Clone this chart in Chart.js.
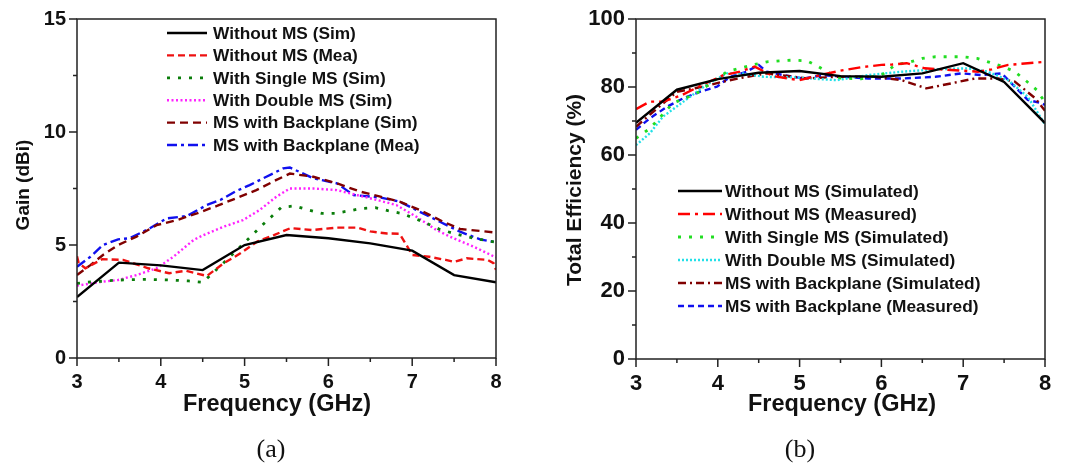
<!DOCTYPE html>
<html>
<head>
<meta charset="utf-8">
<script src="https://cdn.jsdelivr.net/npm/chart.js@4.4.0/dist/chart.umd.min.js"></script>
<style>
  html, body { margin: 0; padding: 0; background: #fff; }
  body { width: 1074px; height: 470px; position: relative; overflow: hidden; }
  .panel { position: absolute; top: 0; width: 537px; height: 470px; }
  #pa { left: 0; }
  #pb { left: 537px; }
  .cap { position: absolute; top: 434px; font: 26px "Liberation Serif", "Times New Roman", serif; color: #111; transform: translateX(-50%); }
</style>
</head>
<body>
<div class="panel" id="pa"><canvas id="gainChart"></canvas></div>
<div class="panel" id="pb"><canvas id="effChart"></canvas></div>
<div class="cap" style="left:271px">(a)</div>
<div class="cap" style="left:800px">(b)</div>
<script>
// ---- (a) Gain (dBi) vs frequency (GHz) ----
var GAIN_NOMS_SIM_F = [3, 3.5, 4, 4.5, 5, 5.5, 6, 6.5, 7, 7.5, 8];
var GAIN_NOMS_SIM = [2.7, 4.22, 4.1, 3.89, 5.0, 5.44, 5.3, 5.07, 4.75, 3.67, 3.35];

var GAIN_NOMS_MEA_F = [3.0, 3.02, 3.1, 3.3, 3.55, 3.85, 4.1, 4.3, 4.55, 4.75, 4.95, 5.15, 5.35, 5.55, 5.8, 6.1, 6.35, 6.5, 6.7, 6.85, 6.92, 7.0, 7.2, 7.4, 7.5, 7.65, 7.9, 7.97, 8.0];
var GAIN_NOMS_MEA = [4.5, 4.2, 3.97, 4.37, 4.34, 3.97, 3.75, 3.86, 3.63, 4.19, 4.63, 5.15, 5.44, 5.75, 5.66, 5.77, 5.77, 5.6, 5.51, 5.5, 5.07, 4.56, 4.48, 4.34, 4.25, 4.41, 4.34, 4.2, 3.9];

var GAIN_SINGLE_F = [3.0, 3.12, 3.5, 3.83, 4.11, 4.33, 4.5, 4.73, 4.97, 5.08, 5.2, 5.32, 5.44, 5.6, 5.76, 5.92, 6.08, 6.23, 6.4, 6.56, 6.71, 6.87, 7.03, 7.17, 7.33, 7.49, 7.65, 7.81, 8.0];
var GAIN_SINGLE = [3.3, 3.35, 3.45, 3.48, 3.45, 3.41, 3.35, 4.14, 5.0, 5.4, 5.84, 6.25, 6.67, 6.73, 6.55, 6.4, 6.4, 6.5, 6.62, 6.65, 6.52, 6.4, 6.18, 5.96, 5.69, 5.52, 5.37, 5.25, 5.12];

var GAIN_DOUBLE_F = [3.0, 3.31, 3.49, 3.71, 3.95, 4.15, 4.39, 4.51, 4.75, 4.98, 5.18, 5.38, 5.54, 5.82, 6.1, 6.34, 6.58, 6.81, 7.05, 7.29, 7.49, 7.73, 8.0];
var GAIN_DOUBLE = [3.2, 3.38, 3.45, 3.67, 3.97, 4.48, 5.22, 5.44, 5.81, 6.1, 6.55, 7.14, 7.5, 7.5, 7.43, 7.21, 6.99, 6.77, 6.25, 5.66, 5.3, 4.93, 4.45];

var GAIN_BP_SIM_F = [3.0, 3.16, 3.31, 3.49, 3.71, 3.95, 4.19, 4.43, 4.67, 4.9, 5.14, 5.38, 5.54, 5.82, 6.1, 6.38, 6.62, 6.85, 7.09, 7.37, 7.57, 7.81, 8.0];
var GAIN_BP_SIM = [3.67, 4.11, 4.56, 5.0, 5.37, 5.88, 6.1, 6.4, 6.73, 7.07, 7.43, 7.88, 8.16, 8.02, 7.73, 7.36, 7.14, 6.92, 6.55, 6.03, 5.71, 5.62, 5.55];

var GAIN_BP_MEA_F = [3.0, 3.16, 3.31, 3.49, 3.63, 3.87, 4.07, 4.31, 4.55, 4.71, 4.9, 5.06, 5.26, 5.46, 5.54, 5.82, 6.1, 6.3, 6.62, 6.85, 7.09, 7.33, 7.57, 7.81, 8.0];
var GAIN_BP_MEA = [4.04, 4.48, 5.0, 5.25, 5.3, 5.74, 6.18, 6.28, 6.77, 6.99, 7.39, 7.65, 8.02, 8.39, 8.43, 7.95, 7.73, 7.21, 7.1, 6.92, 6.47, 6.03, 5.59, 5.25, 5.12];

var GAIN_LABELS = ['Without MS (Sim)', 'Without MS (Mea)', 'With Single MS (Sim)', 'With Double MS (Sim)', 'MS with Backplane (Sim)', 'MS with Backplane (Mea)'];

// ---- (b) Total efficiency (%) vs frequency (GHz) ----
var EFF_NOMS_SIM_F = [3, 3.5, 4, 4.5, 5, 5.5, 6, 6.5, 7, 7.5, 8];
var EFF_NOMS_SIM = [69.5, 79.2, 82.3, 84.2, 84.7, 83.2, 83.0, 84.0, 87.0, 81.5, 69.4];

var EFF_NOMS_MEA_F = [3.0, 3.17, 3.33, 3.55, 3.8, 4.07, 4.27, 4.45, 4.68, 5.0, 5.25, 5.5, 5.75, 6.0, 6.13, 6.31, 6.53, 6.72, 7.0, 7.18, 7.35, 7.55, 7.75, 8.0];
var EFF_NOMS_MEA = [73.5, 75.7, 75.7, 77.5, 80.5, 83.5, 84.5, 86.0, 83.2, 82.0, 83.5, 84.8, 85.8, 86.5, 86.6, 87.0, 85.5, 85.2, 84.8, 84.5, 85.2, 86.5, 86.9, 87.4];

var EFF_SINGLE_F = [3.0, 3.17, 3.45, 3.74, 4.11, 4.27, 4.43, 4.6, 4.76, 4.92, 5.09, 5.23, 5.37, 5.5, 5.75, 6.0, 6.17, 6.33, 6.5, 6.66, 6.84, 7.0, 7.17, 7.33, 7.49, 7.63, 7.76, 7.9, 8.0];
var EFF_SINGLE = [64.9, 67.8, 75.2, 78.1, 84.5, 85.5, 86.5, 87.4, 87.7, 87.9, 87.7, 86.0, 84.0, 82.6, 82.4, 83.5, 86.5, 87.2, 88.4, 88.9, 88.9, 88.9, 88.4, 87.2, 86.0, 84.5, 82.0, 79.1, 75.5];

var EFF_DOUBLE_F = [3.0, 3.17, 3.33, 3.58, 3.86, 4.11, 4.31, 4.56, 4.96, 5.45, 5.84, 6.25, 6.66, 7.06, 7.3, 7.55, 7.79, 8.0];
var EFF_DOUBLE = [62.9, 66.4, 71.3, 75.7, 80.6, 84.0, 84.0, 83.0, 82.8, 82.0, 83.5, 84.5, 85.2, 85.5, 84.5, 82.0, 77.1, 69.0];

var EFF_BP_SIM_F = [3.0, 3.21, 3.5, 3.82, 4.07, 4.31, 4.6, 5.09, 5.45, 5.92, 6.25, 6.55, 6.86, 7.14, 7.43, 7.63, 7.88, 8.0];
var EFF_BP_SIM = [68.3, 72.7, 78.6, 80.1, 81.6, 82.8, 84.0, 82.5, 83.0, 83.0, 82.0, 79.6, 81.1, 82.5, 82.5, 81.6, 76.7, 73.0];

var EFF_BP_MEA_F = [3.0, 3.17, 3.38, 3.58, 3.78, 3.99, 4.15, 4.35, 4.5, 4.6, 4.8, 5.05, 5.29, 5.45, 5.84, 6.25, 6.66, 6.98, 7.23, 7.47, 7.63, 7.79, 7.96, 8.0];
var EFF_BP_MEA = [67.4, 70.8, 74.2, 76.7, 78.6, 80.1, 83.0, 84.5, 86.5, 84.5, 83.5, 82.5, 83.5, 83.2, 82.5, 82.5, 83.0, 84.0, 83.5, 84.0, 80.1, 76.2, 75.2, 74.7];

var EFF_LABELS = ['Without MS (Simulated)', 'Without MS (Measured)', 'With Single MS (Simulated)', 'With Double MS (Simulated)', 'MS with Backplane (Simulated)', 'MS with Backplane (Measured)'];

var SANS = '"Liberation Sans", Arial, sans-serif';
var INK = '#111';

function series(label, xs, ys, color, dash, width) {
  return {
    label: label,
    data: xs.map(function (x, i) { return { x: x, y: ys[i] }; }),
    borderColor: color, borderDash: dash, borderWidth: width || 2.4,
    borderCapStyle: 'butt', pointRadius: 0, fill: false, tension: 0
  };
}

/* frame, minor/major ticks, axis titles and in-plot legend */
var framePlugin = {
  id: 'frame',
  afterDraw: function (chart, args, o) {
    var ctx = chart.ctx, a = chart.chartArea;
    var xs = chart.scales.x, ys = chart.scales.y;
    ctx.save();
    ctx.strokeStyle = '#222';
    ctx.lineWidth = 1.5;
    ctx.strokeRect(a.left, a.top, a.right - a.left, a.bottom - a.top);
    ctx.beginPath();
    var v, n, p, len;
    for (n = 0; ; n++) {
      v = xs.min + n * o.xMinor;
      if (v > xs.max + 1e-9) break;
      p = xs.getPixelForValue(v);
      len = (n % 2 === 0) ? 8 : 4;
      ctx.moveTo(p, a.bottom); ctx.lineTo(p, a.bottom + len);
    }
    for (n = 0; ; n++) {
      v = ys.min + n * o.yMinor;
      if (v > ys.max + 1e-9) break;
      p = ys.getPixelForValue(v);
      len = (n % 2 === 0) ? 8 : 4;
      ctx.moveTo(a.left, p); ctx.lineTo(a.left - len, p);
    }
    ctx.stroke();

    ctx.fillStyle = INK;
    ctx.textAlign = 'center';
    ctx.textBaseline = 'middle';
    ctx.font = 'bold ' + o.xTitle.size + 'px ' + SANS;
    ctx.fillText(o.xTitle.text, o.xTitle.x, o.xTitle.y);
    ctx.save();
    ctx.translate(o.yTitle.x, o.yTitle.y);
    ctx.rotate(-Math.PI / 2);
    ctx.font = 'bold ' + o.yTitle.size + 'px ' + SANS;
    ctx.fillText(o.yTitle.text, 0, 0);
    ctx.restore();

    var L = o.legend;
    ctx.font = 'bold ' + L.size + 'px ' + SANS;
    ctx.textAlign = 'left';
    chart.data.datasets.forEach(function (d, i) {
      var y = L.y0 + i * L.dy;
      ctx.save();
      ctx.strokeStyle = d.borderColor;
      ctx.lineWidth = d.borderWidth;
      ctx.setLineDash(d.borderDash || []);
      ctx.beginPath();
      ctx.moveTo(L.x0, y); ctx.lineTo(L.x1, y);
      ctx.stroke();
      ctx.restore();
      ctx.fillStyle = INK;
      ctx.fillText(d.label, L.tx, y + 1);
    });
    ctx.restore();
  }
};
Chart.register(framePlugin);

function axes(yMax, yStep, yWidth, tickSize) {
  return {
    x: {
      type: 'linear', min: 3, max: 8,
      ticks: { stepSize: 1, color: INK, padding: 5, font: { family: SANS, size: tickSize, weight: 'bold' } },
      grid: { display: false, drawTicks: true, tickLength: 7 },
      border: { display: false },
      afterFit: function (s) { s.height = 40; }
    },
    y: {
      min: 0, max: yMax,
      ticks: { stepSize: yStep, color: INK, padding: 4, font: { family: SANS, size: tickSize, weight: 'bold' } },
      grid: { display: false, drawTicks: true, tickLength: 7 },
      border: { display: false },
      afterFit: function (s) { s.width = yWidth; }
    }
  };
}

function baseOptions(pad, scales, frame) {
  return {
    responsive: true, maintainAspectRatio: false, animation: false,
    layout: { padding: pad },
    scales: scales,
    plugins: { legend: { display: false }, tooltip: { enabled: false }, frame: frame }
  };
}

new Chart(document.getElementById('gainChart'), {
  type: 'line',
  data: {
    datasets: [
      series(GAIN_LABELS[0], GAIN_NOMS_SIM_F, GAIN_NOMS_SIM, '#000000', []),
      series(GAIN_LABELS[1], GAIN_NOMS_MEA_F, GAIN_NOMS_MEA, '#ee1111', [7, 4]),
      series(GAIN_LABELS[2], GAIN_SINGLE_F, GAIN_SINGLE, '#0a7d0a', [3, 8], 2.8),
      series(GAIN_LABELS[3], GAIN_DOUBLE_F, GAIN_DOUBLE, '#ff22ff', [2, 2.5]),
      series(GAIN_LABELS[4], GAIN_BP_SIM_F, GAIN_BP_SIM, '#800000', [8, 5]),
      series(GAIN_LABELS[5], GAIN_BP_MEA_F, GAIN_BP_MEA, '#1010ee', [10, 4, 3, 4])
    ]
  },
  options: baseOptions({ left: 0, right: 41, top: 19, bottom: 72 }, axes(15, 5, 77, 20), {
    xMinor: 0.5, yMinor: 2.5,
    xTitle: { text: 'Frequency (GHz)', x: 277, y: 405, size: 23.5 },
    yTitle: { text: 'Gain (dBi)', x: 24, y: 185, size: 19 },
    legend: { x0: 167, x1: 207, tx: 213, y0: 33, dy: 22.4, size: 17.3 }
  })
});

new Chart(document.getElementById('effChart'), {
  type: 'line',
  data: {
    datasets: [
      series(EFF_LABELS[0], EFF_NOMS_SIM_F, EFF_NOMS_SIM, '#000000', []),
      series(EFF_LABELS[1], EFF_NOMS_MEA_F, EFF_NOMS_MEA, '#ff0000', [12, 5, 3, 5]),
      series(EFF_LABELS[2], EFF_SINGLE_F, EFF_SINGLE, '#22dd22', [3, 8], 2.8),
      series(EFF_LABELS[3], EFF_DOUBLE_F, EFF_DOUBLE, '#22e0e8', [2, 2]),
      series(EFF_LABELS[4], EFF_BP_SIM_F, EFF_BP_SIM, '#800000', [8, 4, 2, 4]),
      series(EFF_LABELS[5], EFF_BP_MEA_F, EFF_BP_MEA, '#1010ee', [6, 4])
    ]
  },
  options: baseOptions({ left: 0, right: 29, top: 19, bottom: 71 }, axes(100, 20, 99, 22), {
    xMinor: 0.5, yMinor: 10,
    xTitle: { text: 'Frequency (GHz)', x: 305, y: 405, size: 23.5 },
    yTitle: { text: 'Total Efficiency (%)', x: 38, y: 190, size: 21 },
    legend: { x0: 141, x1: 185, tx: 188, y0: 191, dy: 23, size: 17.3 }
  })
});
</script>
</body>
</html>
